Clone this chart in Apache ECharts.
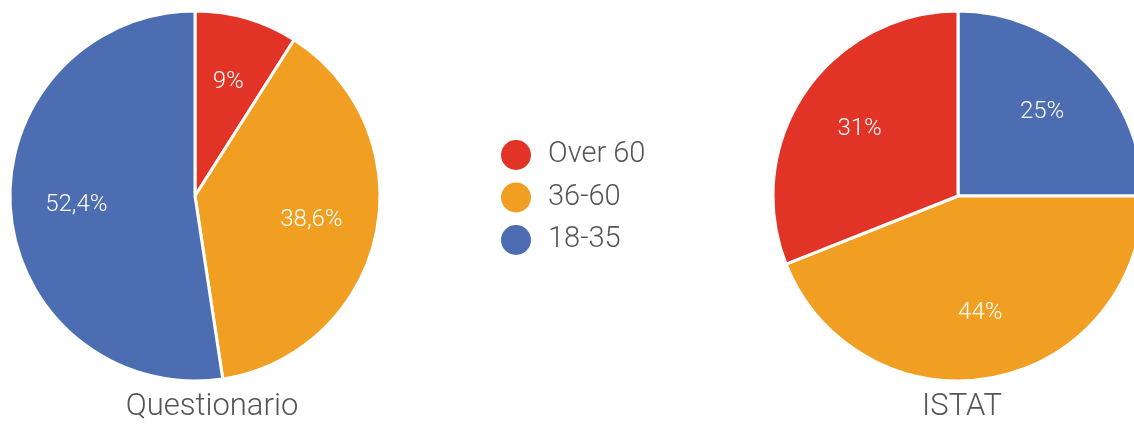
<!DOCTYPE html>
<html>
<head>
<meta charset="utf-8">
<script src="https://cdn.jsdelivr.net/npm/echarts@6/dist/echarts.min.js"></script>
<style>
html,body{margin:0;padding:0;background:#fff;}
#chart{width:1134px;height:425px;}
</style>
</head>
<body>
<div id="chart"></div>
<script>
const categories = ['Over 60', '36-60', '18-35'];
const questionarioNames = ['Over 60', '36-60', '18-35'];
const questionarioValues = [9, 38.6, 52.4];
const istatNames = ['18-35', '36-60', 'Over 60'];
const istatValues = [25, 44, 31];
const chartTitles = ['Questionario', 'ISTAT'];

const colorMap = { 'Over 60': '#E23327', '36-60': '#F09F22', '18-35': '#4D6DB3' };
const FONT = 'Roboto';

function buildData(names, values) {
  return names.map((n, i) => ({ name: n, value: values[i], itemStyle: { color: colorMap[n] } }));
}
function fmt(p) { return String(p.value).replace('.', ',') + '%'; }

function pieSeries(names, values, cx) {
  return [
    {
      type: 'pie',
      center: [cx, 196],
      radius: 185,
      startAngle: 90,
      clockwise: true,
      silent: true,
      data: buildData(names, values),
      itemStyle: { borderColor: '#ffffff', borderWidth: 3 },
      label: { show: false },
      labelLine: { show: false }
    },
    {
      type: 'pie',
      center: [cx, 196],
      radius: [0, 232],
      startAngle: 90,
      clockwise: true,
      silent: true,
      legendHoverLink: false,
      data: names.map((n, i) => ({ name: n, value: values[i], itemStyle: { color: 'rgba(0,0,0,0)' } })),
      itemStyle: { borderWidth: 0 },
      label: {
        show: true,
        position: 'inside',
        formatter: fmt,
        color: '#ffffff',
        fontFamily: FONT,
        fontWeight: 300,
        fontSize: 24
      },
      labelLine: { show: false },
      z: 3
    }
  ];
}

const chart = echarts.init(document.getElementById('chart'), null, { renderer: 'canvas' });
chart.setOption({
  animation: false,
  backgroundColor: '#ffffff',
  title: [
    { text: chartTitles[0], left: 207, top: 387, textAlign: 'center',
      textStyle: { fontFamily: FONT, fontWeight: 300, fontSize: 31, color: '#555555' } },
    { text: chartTitles[1], left: 957, top: 387, textAlign: 'center',
      textStyle: { fontFamily: FONT, fontWeight: 300, fontSize: 31, color: '#555555' } }
  ],
  legend: {
    data: categories.map(c => ({ name: c, itemStyle: { color: colorMap[c] } })),
    orient: 'vertical',
    left: 494,
    top: 133,
    icon: 'circle',
    itemWidth: 32,
    itemHeight: 32,
    itemGap: 8.5,
    selectedMode: false,
    textStyle: { fontFamily: FONT, fontWeight: 300, fontSize: 29, lineHeight: 30, color: '#555555', padding: [0, 0, 0, 11] }
  },
  series: [
    ...pieSeries(questionarioNames, questionarioValues, 195),
    ...pieSeries(istatNames, istatValues, 958)
  ]
});
</script>
</body>
</html>
